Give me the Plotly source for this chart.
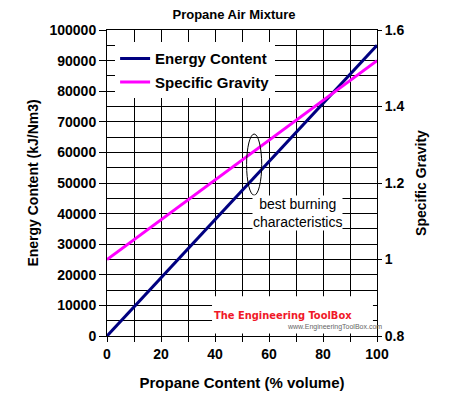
import plotly.graph_objects as go

propane_pct = [0, 10, 20, 30, 40, 50, 60, 70, 80, 90, 100]
energy_content = [0, 9500, 19000, 28500, 38000, 47500, 57000, 66500, 76000, 85500, 95000]
specific_gravity = [1.00, 1.052, 1.104, 1.156, 1.208, 1.26, 1.312, 1.364, 1.416, 1.468, 1.52]

FONT = "Liberation Sans, Arial, sans-serif"
BOLD = dict(family=FONT, size=14, color="black", weight="bold")

fig = go.Figure()
fig.add_trace(go.Scatter(x=propane_pct, y=energy_content, mode="lines", name="Energy Content",
                         line=dict(color="#000080", width=3), legendgroup="a"))
fig.add_trace(go.Scatter(x=propane_pct, y=specific_gravity, mode="lines", name="Specific Gravity",
                         line=dict(color="#FF00FF", width=3), yaxis="y2", legendgroup="b"))

fig.update_layout(
    width=456, height=416,
    margin=dict(l=107, r=79, t=30, b=80),
    paper_bgcolor="white", plot_bgcolor="white",
    font=dict(family=FONT, color="black"),
    title=dict(text="Propane Air Mixture", x=234/456, xanchor="center", y=1-14/416, yanchor="middle",
               font=dict(family=FONT, size=13, color="black", weight="bold")),
    xaxis=dict(range=[0, 100], tick0=0, dtick=20, tickformat="d",
               ticks="outside", ticklen=5, tickcolor="black", tickwidth=1,
               showgrid=True, gridcolor="black", gridwidth=1,
               minor=dict(dtick=10, showgrid=True, gridcolor="black", gridwidth=1,
                          ticks="outside", ticklen=5, tickcolor="black"),
               showline=True, linecolor="black", linewidth=1, mirror=True, zeroline=False,
               tickfont=BOLD,
               title=dict(text="Propane Content (% volume)", font=dict(family=FONT, size=15, color="black", weight="bold"), standoff=16)),
    yaxis=dict(range=[0, 100000], tick0=0, dtick=10000, tickformat="d",
               ticks="outside", ticklen=7, tickcolor="black", tickwidth=1,
               showgrid=True, gridcolor="black", gridwidth=1,
               minor=dict(dtick=5000, showgrid=True, gridcolor="black", gridwidth=1),
               showline=True, linecolor="black", linewidth=1, zeroline=False,
               tickfont=BOLD,
               title=dict(text="Energy Content (kJ/Nm3)", font=dict(family=FONT, size=14, color="black", weight="bold"), standoff=7)),
    yaxis2=dict(range=[0.8, 1.6], tick0=0.8, dtick=0.2, overlaying="y", side="right",
                ticks="outside", ticklen=4, tickcolor="black",
                showgrid=False, showline=True, linecolor="black", zeroline=False,
                tickfont=BOLD,
                title=dict(text="Specific Gravity", font=dict(family=FONT, size=14, color="black", weight="bold"), standoff=12)),
    legend=dict(x=0.03, y=0.96, xanchor="left", yanchor="top", bgcolor="white",
                borderwidth=0, tracegroupgap=1,
                font=dict(family=FONT, size=15, color="black", weight="bold")),
    showlegend=True,
)

# ellipse marking best burning region
fig.add_shape(type="circle", xref="x", yref="y", x0=51.7, x1=57.3, y0=46000, y1=66000,
              line=dict(color="black", width=1), layer="above")
fig.add_annotation(x=70.4, y=40300, xref="x", yref="y", text="best burning<br>characteristics",
                   showarrow=False, bgcolor="white", font=dict(family=FONT, size=14, color="black"),
                   align="center", borderpad=0)

# watermark
fig.add_shape(type="rect", xref="x", yref="y", x0=38.9, x1=98.5, y0=800, y1=13000,
              fillcolor="white", line=dict(width=0), layer="above")
fig.add_annotation(x=212, y=416-315, xref="paper", yref="paper", text="The Engineering ToolBox",
                   showarrow=False, xanchor="left", yanchor="middle",
                   font=dict(family="DejaVu Sans Condensed, sans-serif", size=11, color="#f01828", weight="bold"))
fig.add_annotation(x=285, y=416-327, xref="paper", yref="paper", text="www.EngineeringToolBox.com",
                   showarrow=False, xanchor="left", yanchor="middle",
                   font=dict(family=FONT, size=7, color="#666666"))

# convert paper pixel coords for watermark annotations
for a in fig.layout.annotations[1:]:
    a.x = (a.x - 107) / 270
    a.y = (a.y - 80) / 306

fig.write_html("out.html")
